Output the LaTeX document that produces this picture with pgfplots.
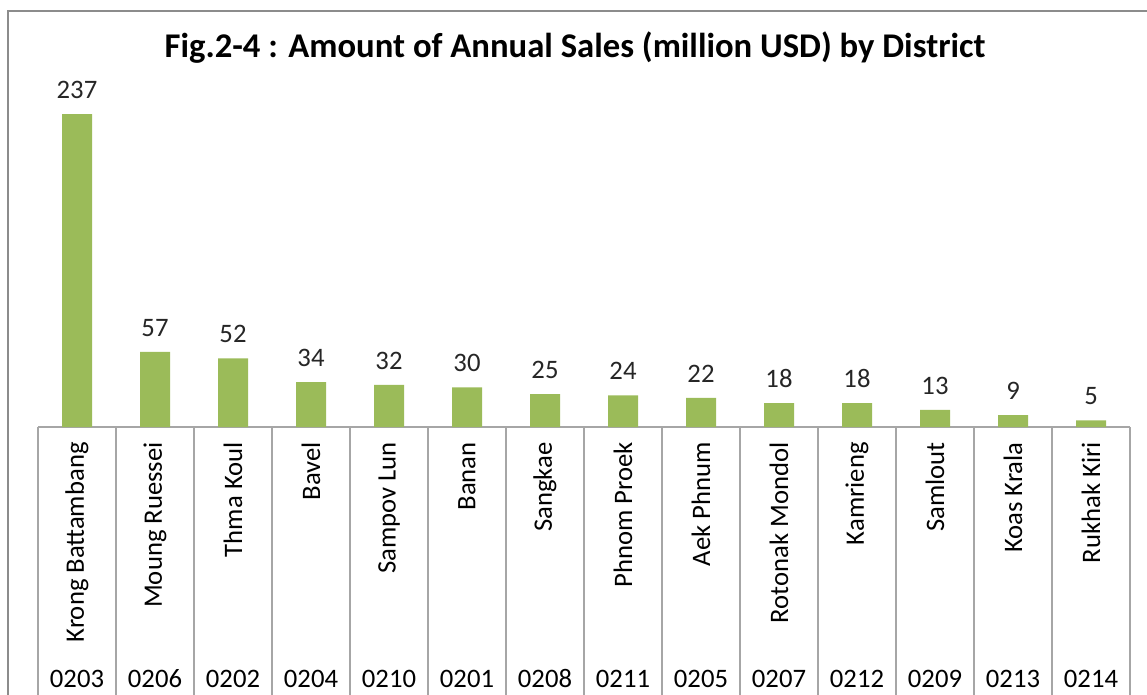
\documentclass[border=0pt]{standalone}
\usepackage{fontspec}
\setmainfont{Carlito}
\usepackage{pgfplots}
\pgfplotsset{compat=1.18}
\definecolor{bargreen}{HTML}{9BBB59}
\definecolor{sepgray}{HTML}{A6A6A6}
\definecolor{framegray}{HTML}{8C8C8C}

\begin{document}
\begin{tikzpicture}
\useasboundingbox (0,0) rectangle (860.25pt,-521.25pt);
\draw[framegray, line width=1.5pt] (6pt,-8.25pt) rectangle (900pt,-560pt);
\node[font=\bfseries\fontsize{26}{30}\selectfont, text=black] at (431.25pt,-36pt)
  {Fig.2-4 : Amount of Annual Sales (million USD) by District};
\begin{axis}[
    at={(57.75pt,-320.25pt)}, anchor=origin,
    x=58.5pt, y=0.99pt,
    xmin=-0.5, xmax=13.5, ymin=0, ymax=250,
    clip=false,
    axis x line*=bottom, axis y line=none,
    axis line style={sepgray, line width=0.8pt, -},
    xtick={0,...,13},
    xticklabels={Krong Battambang, Moung Ruessei, Thma Koul, Bavel, Sampov Lun,
      Banan, Sangkae, Phnom Proek, Aek Phnum, Rotonak Mondol, Kamrieng,
      Samlout, Koas Krala, Rukhak Kiri},
    major tick length=0pt,
    tick align=outside,
    xticklabel style={rotate=90, anchor=east, text=black, xshift=-8pt,
      font=\fontsize{20}{24}\selectfont},
    extra x ticks={-0.5,0.5,...,13.5},
    extra x tick style={major tick length=230pt,
      tick style={sepgray, line width=0.8pt},
      xticklabel={}},
    ytick=\empty,
    /pgf/number format/assume math mode=true,
]
\addplot[ybar, bar width=22.5pt, fill=bargreen, draw=none,
    nodes near coords,
    nodes near coords style={font=\fontsize{20}{24}\selectfont, text=black!85, yshift=8pt}]
  coordinates {(0,237) (1,57) (2,52) (3,34) (4,32) (5,30) (6,25)
               (7,24) (8,22) (9,18) (10,18) (11,13) (12,9) (13,5)};
\addplot[draw=none, mark=none, point meta=explicit symbolic,
    nodes near coords,
    nodes near coords style={anchor=base, yshift=-195pt, text=black,
      font=\fontsize{20}{24}\selectfont}]
  coordinates {(0,0) [0203] (1,0) [0206] (2,0) [0202] (3,0) [0204] (4,0) [0210]
               (5,0) [0201] (6,0) [0208] (7,0) [0211] (8,0) [0205] (9,0) [0207]
               (10,0) [0212] (11,0) [0209] (12,0) [0213] (13,0) [0214]};
\end{axis}
\end{tikzpicture}
\end{document}
